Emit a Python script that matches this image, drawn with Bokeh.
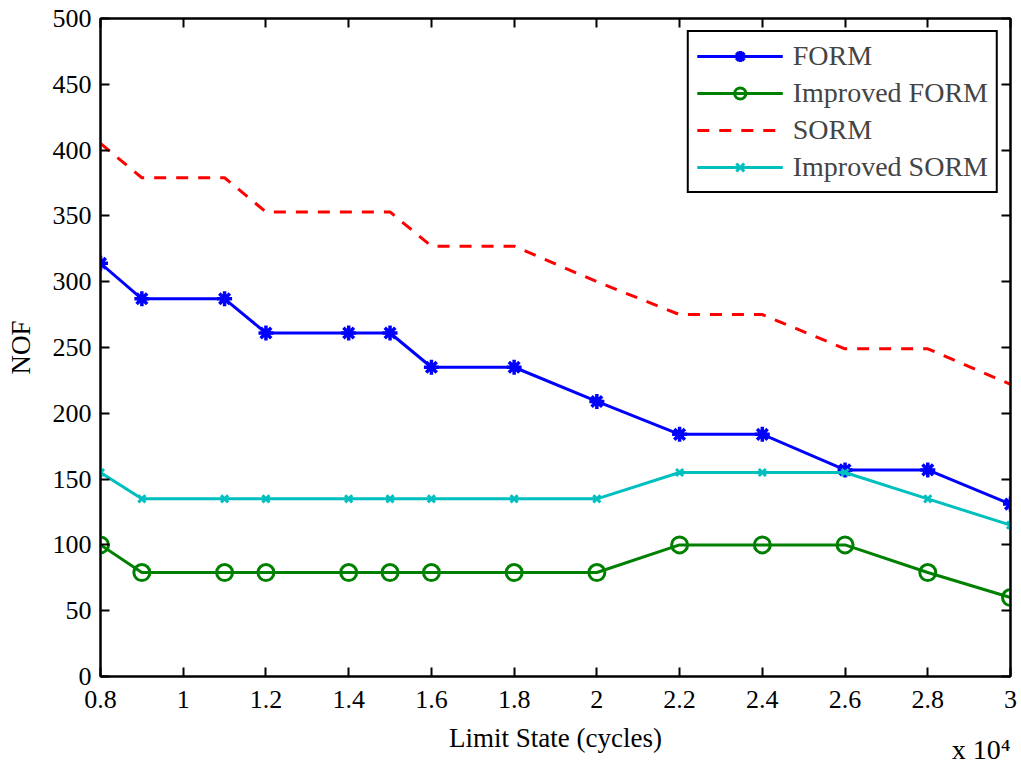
from bokeh.plotting import figure
from bokeh.models import LinearAxis, Title, Legend, LegendItem, FixedTicker, Range1d
from bokeh.embed import file_html
from bokeh.resources import INLINE

x_cycles = [8000, 9000, 11000, 12000, 14000, 15000, 16000, 18000, 20000, 22000, 24000, 26000, 28000, 30000]
form = [314, 287, 287, 261, 261, 261, 235, 235, 209, 184, 184, 157, 157, 131]
improved_form = [100, 79, 79, 79, 79, 79, 79, 79, 79, 100, 100, 100, 79, 60]
sorm = [405, 379, 379, 353, 353, 353, 327, 327, 300, 275, 275, 249, 249, 222]
improved_sorm = [155, 135, 135, 135, 135, 135, 135, 135, 135, 155, 155, 155, 135, 115]

x_ticks = [8000, 10000, 12000, 14000, 16000, 18000, 20000, 22000, 24000, 26000, 28000, 30000]
x_tick_labels = ["0.8", "1", "1.2", "1.4", "1.6", "1.8", "2", "2.2", "2.4", "2.6", "2.8", "3"]
y_ticks = list(range(0, 501, 50))

FONT = "Liberation Serif"

p = figure(width=1018, height=769, output_backend="svg", toolbar_location=None,
           x_range=Range1d(8000, 30000), y_range=Range1d(0, 500),
           min_border_left=100, min_border_right=8, min_border_top=18, min_border_bottom=93)
p.grid.visible = False
p.outline_line_color = "black"
p.outline_line_width = 2
p.background_fill_color = "white"
p.border_fill_color = "white"

def style_axis(ax):
    ax.major_tick_in = 9
    ax.major_tick_out = 0
    ax.minor_tick_in = 0
    ax.minor_tick_out = 0
    ax.axis_line_color = "black"
    ax.axis_line_width = 2
    ax.major_tick_line_width = 2
    ax.major_label_text_font = FONT
    ax.major_label_text_font_size = "26px"
    ax.major_label_text_color = "black"
    ax.axis_label_text_font = FONT
    ax.axis_label_text_font_size = "27px"
    ax.axis_label_text_font_style = "normal"
    ax.axis_label_text_color = "black"

p.xaxis.ticker = FixedTicker(ticks=x_ticks)
p.xaxis.major_label_overrides = {t: l for t, l in zip(x_ticks, x_tick_labels)}
p.yaxis.ticker = FixedTicker(ticks=y_ticks)
p.xaxis.axis_label = "Limit State (cycles)"
p.yaxis.axis_label = "NOF"
style_axis(p.xaxis[0])
style_axis(p.yaxis[0])
p.xaxis.major_label_standoff = 14
p.yaxis.major_label_standoff = 9
p.xaxis.axis_label_standoff = 12
p.yaxis.axis_label_standoff = 14

ax_top = LinearAxis(ticker=FixedTicker(ticks=x_ticks))
style_axis(ax_top)
ax_top.major_label_overrides = {t: "" for t in x_ticks}
p.add_layout(ax_top, "above")
ax_right = LinearAxis(ticker=FixedTicker(ticks=y_ticks))
style_axis(ax_right)
ax_right.major_label_overrides = {t: "" for t in y_ticks}
p.add_layout(ax_right, "right")

r1 = p.line(x_cycles, form, line_color="#0000ff", line_width=3)
m1 = p.scatter(x_cycles, form, marker="asterisk", size=15, line_color="#0000ff", line_width=3.5)
r2 = p.line(x_cycles, improved_form, line_color="#008000", line_width=3)
m2 = p.scatter(x_cycles, improved_form, marker="circle", size=16, line_color="#008000",
               fill_color=None, line_width=3)
r3 = p.line(x_cycles, sorm, line_color="#ff0000", line_width=3, line_dash="12 10")
r4 = p.line(x_cycles, improved_sorm, line_color="#00bfbf", line_width=3)
m4 = p.scatter(x_cycles, improved_sorm, marker="x", size=10, line_color="#00bfbf", line_width=3)

legend = Legend(items=[
    LegendItem(label="FORM", renderers=[r1, m1]),
    LegendItem(label="Improved FORM", renderers=[r2, m2]),
    LegendItem(label="SORM", renderers=[r3]),
    LegendItem(label="Improved SORM", renderers=[r4, m4]),
], location="top_right")
legend.label_text_font = FONT
legend.label_text_font_size = "28px"
legend.glyph_width = 86
legend.glyph_height = 28
legend.label_height = 28
legend.spacing = 5
legend.padding = 8
legend.margin = 12
legend.label_standoff = 10
legend.border_line_color = "black"
legend.border_line_alpha = 1
legend.border_line_width = 2
legend.background_fill_alpha = 1
p.add_layout(legend)

exp_title = Title(text="x 10\u2074", align="right", vertical_align="top", standoff=-44, offset=0,
                  text_font=FONT, text_font_size="28px", text_font_style="normal",
                  text_color="black")
p.add_layout(exp_title, "below")

open("out.html", "w").write(file_html(p, INLINE))
